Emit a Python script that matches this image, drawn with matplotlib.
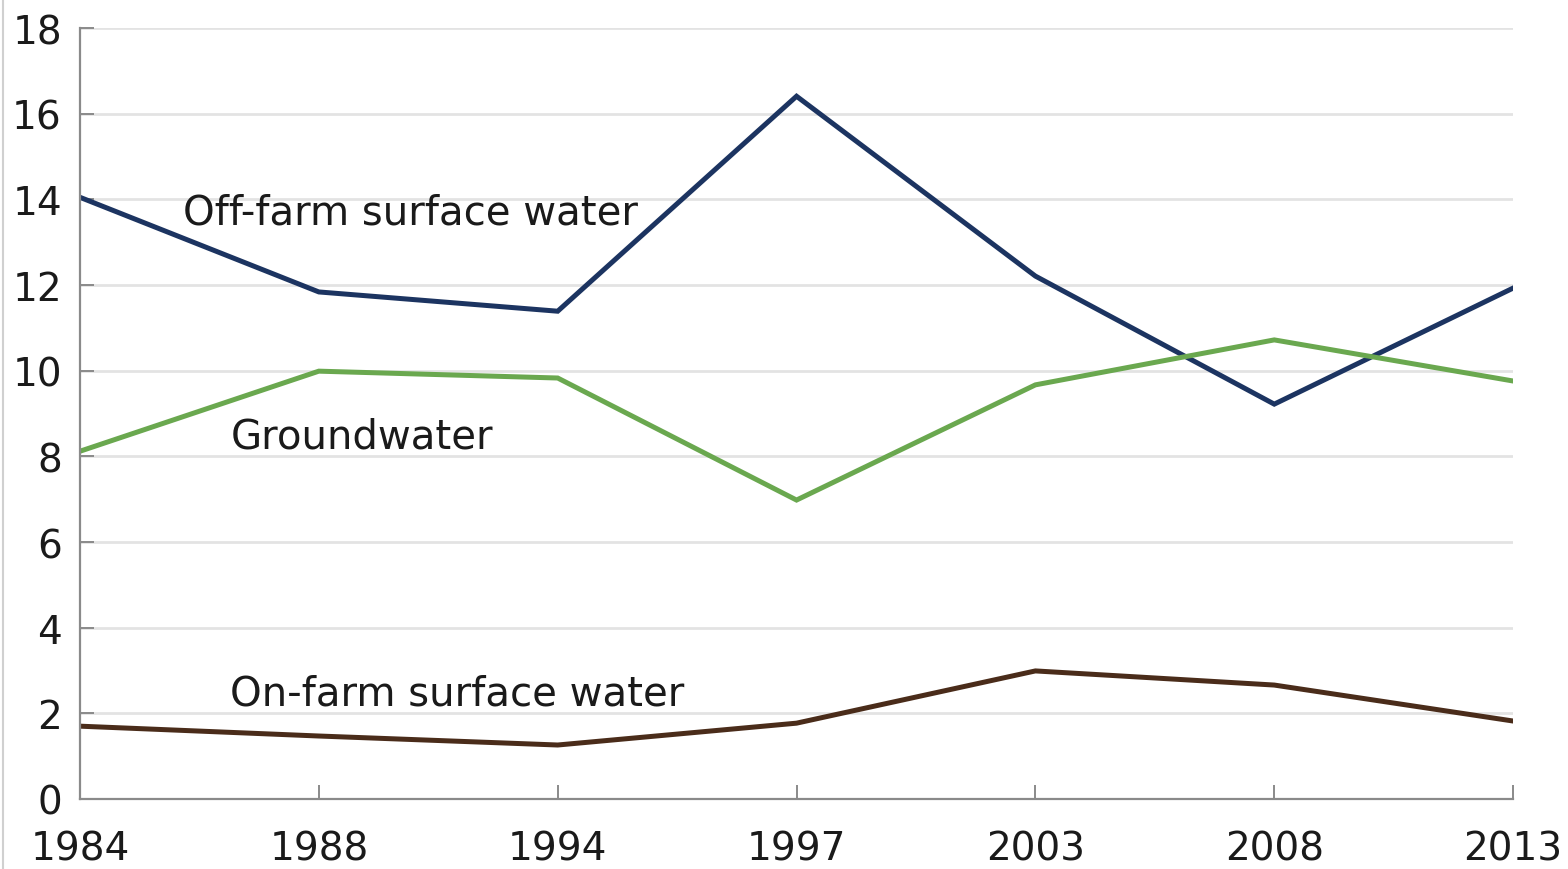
import matplotlib.pyplot as plt
from matplotlib.lines import Line2D

plt.rcParams['font.family'] = ['DejaVu Sans']

# data
years = ["1984", "1988", "1994", "1997", "2003", "2008", "2013"]
off_farm = [14.05, 11.84, 11.39, 16.41, 12.21, 9.22, 11.93]
groundwater = [8.12, 9.99, 9.83, 6.98, 9.67, 10.72, 9.76]
on_farm = [1.70, 1.47, 1.26, 1.77, 2.99, 2.66, 1.82]

x = list(range(len(years)))

fig = plt.figure(figsize=(15.68, 8.7), dpi=100)
ax = fig.add_axes([0.051, 0.0805, 0.914, 0.886])

ax.plot(x, off_farm, color="#1c3461", lw=3.6, solid_joinstyle="miter")
ax.plot(x, groundwater, color="#6aa84f", lw=3.6, solid_joinstyle="miter")
ax.plot(x, on_farm, color="#4a2c1a", lw=3.6, solid_joinstyle="miter")

ax.text(0.43, 13.7, "Off-farm surface water", fontsize=29, va="center", color="#1a1a1a")
ax.text(0.63, 8.47, "Groundwater", fontsize=29, va="center", color="#1a1a1a")
ax.text(0.63, 2.47, "On-farm surface water", fontsize=29, va="center", color="#1a1a1a")

ax.set_xlim(0, len(years) - 1)
ax.set_ylim(0, 18)
ax.set_xticks(x)
ax.set_xticklabels(years)
ax.set_yticks(range(0, 19, 2))

ax.grid(axis="y", color="#e3e3e3", lw=2)
ax.set_axisbelow(True)
for s in ["top", "right"]:
    ax.spines[s].set_visible(False)
for s in ["left", "bottom"]:
    ax.spines[s].set_color("#8a8a8a")
    ax.spines[s].set_linewidth(1.6)

ax.tick_params(axis="both", direction="in", length=10, width=1.4, color="#8a8a8a",
               labelsize=28, labelcolor="#1a1a1a")
ax.tick_params(axis="y", pad=13)
ax.tick_params(axis="x", pad=22)

# thin frame edge at far left of the screenshot
fig.add_artist(Line2D([0.002, 0.002], [0, 1], color="#d0d0d0", lw=1.5))

fig.savefig("out.png", dpi=100, facecolor="white")
